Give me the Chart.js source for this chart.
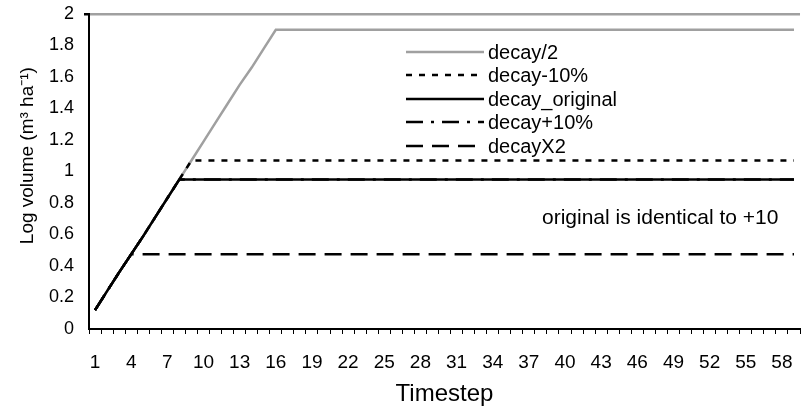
<!DOCTYPE html>
<html>
<head>
<meta charset="utf-8">
<script src="https://cdn.jsdelivr.net/npm/chart.js@4/dist/chart.umd.min.js"></script>
<style>
html,body{margin:0;padding:0;background:#fff;overflow:hidden;}
#wrap{width:811px;height:409px;position:relative;}
</style>
</head>
<body>
<div id="wrap"><canvas id="c" width="811" height="409"></canvas></div>
<script>
const timesteps = [1,2,3,4,5,6,7,8,9,10,11,12,13,14,15,16,17,18,19,20,21,22,23,24,25,26,27,28,29,30,31,32,33,34,35,36,37,38,39,40,41,42,43,44,45,46,47,48,49,50,51,52,53,54,55,56,57,58,59];

const decayHalf = [0.12,0.24,0.36,0.475,0.59,0.71,0.83,0.95,1.07,1.19,
  1.31,1.43,1.55,1.66,1.78,1.9,1.9,1.9,1.9,1.9,
  1.9,1.9,1.9,1.9,1.9,1.9,1.9,1.9,1.9,1.9,
  1.9,1.9,1.9,1.9,1.9,1.9,1.9,1.9,1.9,1.9,
  1.9,1.9,1.9,1.9,1.9,1.9,1.9,1.9,1.9,1.9,
  1.9,1.9,1.9,1.9,1.9,1.9,1.9,1.9,1.9];

const decayMinus10 = [0.12,0.24,0.36,0.475,0.59,0.71,0.83,0.95,1.07,1.07,
  1.07,1.07,1.07,1.07,1.07,1.07,1.07,1.07,1.07,1.07,
  1.07,1.07,1.07,1.07,1.07,1.07,1.07,1.07,1.07,1.07,
  1.07,1.07,1.07,1.07,1.07,1.07,1.07,1.07,1.07,1.07,
  1.07,1.07,1.07,1.07,1.07,1.07,1.07,1.07,1.07,1.07,
  1.07,1.07,1.07,1.07,1.07,1.07,1.07,1.07,1.07];

const decayOriginal = [0.12,0.24,0.36,0.475,0.59,0.71,0.83,0.95,0.95,0.95,
  0.95,0.95,0.95,0.95,0.95,0.95,0.95,0.95,0.95,0.95,
  0.95,0.95,0.95,0.95,0.95,0.95,0.95,0.95,0.95,0.95,
  0.95,0.95,0.95,0.95,0.95,0.95,0.95,0.95,0.95,0.95,
  0.95,0.95,0.95,0.95,0.95,0.95,0.95,0.95,0.95,0.95,
  0.95,0.95,0.95,0.95,0.95,0.95,0.95,0.95,0.95];

const decayPlus10 = [0.12,0.24,0.36,0.475,0.59,0.71,0.83,0.95,0.95,0.95,
  0.95,0.95,0.95,0.95,0.95,0.95,0.95,0.95,0.95,0.95,
  0.95,0.95,0.95,0.95,0.95,0.95,0.95,0.95,0.95,0.95,
  0.95,0.95,0.95,0.95,0.95,0.95,0.95,0.95,0.95,0.95,
  0.95,0.95,0.95,0.95,0.95,0.95,0.95,0.95,0.95,0.95,
  0.95,0.95,0.95,0.95,0.95,0.95,0.95,0.95,0.95];

const decayX2 = [0.12,0.24,0.36,0.475,0.475,0.475,0.475,0.475,0.475,0.475,
  0.475,0.475,0.475,0.475,0.475,0.475,0.475,0.475,0.475,0.475,
  0.475,0.475,0.475,0.475,0.475,0.475,0.475,0.475,0.475,0.475,
  0.475,0.475,0.475,0.475,0.475,0.475,0.475,0.475,0.475,0.475,
  0.475,0.475,0.475,0.475,0.475,0.475,0.475,0.475,0.475,0.475,
  0.475,0.475,0.475,0.475,0.475,0.475,0.475,0.475,0.475];

const seriesNames = ['decay/2','decay-10%','decay_original','decay+10%','decayX2'];
const yTicks = [0,0.2,0.4,0.6,0.8,1,1.2,1.4,1.6,1.8,2];
const note = 'original is identical to +10';

const FONT = '"Liberation Sans", Arial, sans-serif';

const legendPlugin = {
  id: 'inlegend',
  afterDatasetsDraw(chart) {
    const ctx = chart.ctx;
    const x0 = 406, x1 = 484, tx = 488;
    const ys = [52, 75, 99, 122, 146];
    ctx.save();
    chart.data.datasets.forEach((ds, i) => {
      ctx.beginPath();
      ctx.strokeStyle = ds.borderColor;
      ctx.lineWidth = ds.borderWidth;
      ctx.setLineDash(ds.borderDash || []);
      ctx.moveTo(x0, ys[i]);
      ctx.lineTo(x1, ys[i]);
      ctx.stroke();
      ctx.setLineDash([]);
      ctx.fillStyle = '#000';
      ctx.font = '20px ' + FONT;
      ctx.textBaseline = 'middle';
      ctx.textAlign = 'left';
      ctx.fillText(ds.label, tx, ys[i] + 1);
    });
    ctx.font = '21px ' + FONT;
    ctx.textAlign = 'left';
    ctx.textBaseline = 'middle';
    ctx.fillText(note, 542, 218);
    ctx.restore();
  }
};

const mk = (label, data, color, width, dash, order) => ({
  label, data, borderColor: color, borderWidth: width, borderDash: dash,
  order, pointRadius: 0, fill: false, tension: 0
});

new Chart(document.getElementById('c'), {
  type: 'line',
  data: {
    labels: timesteps,
    datasets: [
      mk(seriesNames[0], decayHalf, '#a0a0a0', 2.5, [], 10),
      mk(seriesNames[1], decayMinus10, '#000', 2.5, [6, 7], 3),
      mk(seriesNames[2], decayOriginal, '#000', 2.5, [], 0),
      mk(seriesNames[3], decayPlus10, '#000', 2.5, [17, 8, 3, 8], 1),
      mk(seriesNames[4], decayX2, '#000', 2.5, [17, 9], 2)
    ]
  },
  options: {
    responsive: false,
    animation: false,
    layout: { padding: { top: 14, right: 2, left: 0, bottom: 0 } },
    plugins: { legend: { display: false }, tooltip: { enabled: false } },
    scales: {
      x: {
        type: 'category',
        offset: true,
        grid: { display: true, offset: true, drawOnChartArea: false, color: '#000', tickLength: 5, tickWidth: 1 },
        border: { display: true, color: '#000', width: 2 },
        ticks: {
          autoSkip: false, maxRotation: 0, minRotation: 0, padding: 17,
          color: '#000', font: { family: FONT, size: 19 },
          callback: function(v, i) { return i % 3 === 0 ? this.getLabelForValue(v) : ''; }
        },
        title: { display: true, text: 'Timestep', color: '#000', font: { family: FONT, size: 24 }, padding: { top: 0, bottom: 0 } },
        afterFit(s) { s.height = 80; }
      },
      y: {
        min: 0, max: 2,
        afterBuildTicks(s) { s.ticks = yTicks.map(v => ({ value: v })); },
        grid: {
          drawOnChartArea: true, tickLength: 5, tickColor: '#000',
          color: c => c.tick && c.tick.value === 2 ? '#a0a0a0' : 'rgba(0,0,0,0)',
          lineWidth: c => c.tick && c.tick.value === 2 ? 2.5 : 0
        },
        border: { display: true, color: '#000', width: 2 },
        ticks: {
          padding: 10, color: '#000', font: { family: FONT, size: 18 },
          callback: v => String(v)
        },
        title: { display: true, text: '\u00A0\u00A0\u00A0\u00A0\u00A0\u00A0Log volume (m³ ha⁻¹)', color: '#000', font: { family: FONT, size: 19 }, padding: { top: 16, bottom: 0 } },
        afterFit(s) { s.width = 89; s.paddingTop = 0; s.paddingBottom = 0; }
      }
    }
  },
  plugins: [legendPlugin]
});
</script>
</body>
</html>
